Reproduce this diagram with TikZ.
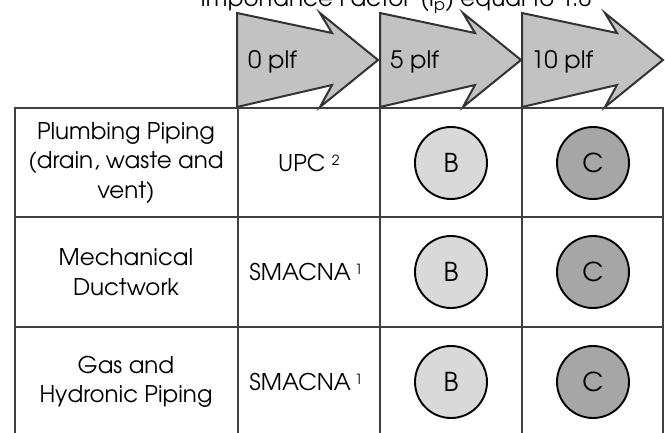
\documentclass[tikz,border=0pt]{standalone}
\usepackage{fontspec}
\setmainfont{TeX Gyre Adventor}
\definecolor{arrfill}{HTML}{C2C2C2}
\definecolor{arrline}{HTML}{333333}
\definecolor{tabline}{HTML}{404040}
\definecolor{bfill}{HTML}{D9D9D9}
\definecolor{cfill}{HTML}{A6A6A6}
\tikzset{
  arrowshape/.style={fill=arrfill,draw=arrline,line width=2pt,line join=miter},
  tableline/.style={draw=tabline,line width=2.6pt},
  celltext/.style={font=\fontsize{23}{29.5}\selectfont,align=center,inner sep=0pt},
  plftext/.style={font=\fontsize{24}{28}\selectfont,anchor=west,inner sep=0pt},
  grade/.style={circle,draw=black,line width=1.9pt,minimum size=72pt,inner sep=0pt,font=\fontsize{26}{30}\selectfont},
  gradeb/.style={grade,fill=bfill},
  gradec/.style={grade,fill=cfill},
}
\newcommand{\plfarrow}[1]{%
  \draw[arrowshape] (#1,13) -- (#1+95,33) -- (#1+83,13) -- (#1+141,60) -- (#1+83,107) -- (#1+95,85) -- (#1,107) -- cycle;}
\newcommand{\supnum}[1]{{\fontsize{14}{16}\selectfont\raisebox{6pt}{#1}}}
\begin{document}
\begin{tikzpicture}[x=1pt,y=-1pt]
\useasboundingbox (0,0) rectangle (665,432);
\fill[white] (0,0) rectangle (665,432);
% title (clipped at the top)
\node[font=\fontsize{23}{27}\selectfont,anchor=base,inner sep=0pt] (title) at (396,6.5) {Importance Factor\, (I\textsubscript{p}) equal to 1.0};
% arrows
\plfarrow{237}
\plfarrow{380}
\plfarrow{522}
\node[plftext] (p0) at (248,62) {0 plf};
\node[plftext] (p5) at (390,62) {5 plf};
\node[plftext] (p10) at (531,62) {10 plf};
% table
\draw[tableline] (15,108) rectangle (663,440);
\draw[tableline] (15,217) -- (663,217);
\draw[tableline] (15,327) -- (663,327);
\draw[tableline] (238,108) -- (238,440);
\draw[tableline] (380,108) -- (380,440);
\draw[tableline] (522,108) -- (522,440);
% row labels
\node[celltext] (r1) at (126,163) {Plumbing Piping\\(drain, waste and\\vent)};
\node[celltext] (r2) at (126,272) {Mechanical\\Ductwork};
\node[celltext] (r3) at (126,382) {Gas and\\Hydronic Piping};
% standards
\node[celltext] (s1) at (309,163) {UPC \supnum{2}};
\node[celltext] (s2) at (306,272) {SMACNA\,\supnum{1}};
\node[celltext] (s3) at (306,382) {SMACNA\,\supnum{1}};
% grades
\node[gradeb] (b1) at (451,163) {B};
\node[gradec] (c1) at (593,163) {C};
\node[gradeb] (b2) at (451,272) {B};
\node[gradec] (c2) at (593,272) {C};
\node[gradeb] (b3) at (451,382) {B};
\node[gradec] (c3) at (593,382) {C};
\end{tikzpicture}
\end{document}
